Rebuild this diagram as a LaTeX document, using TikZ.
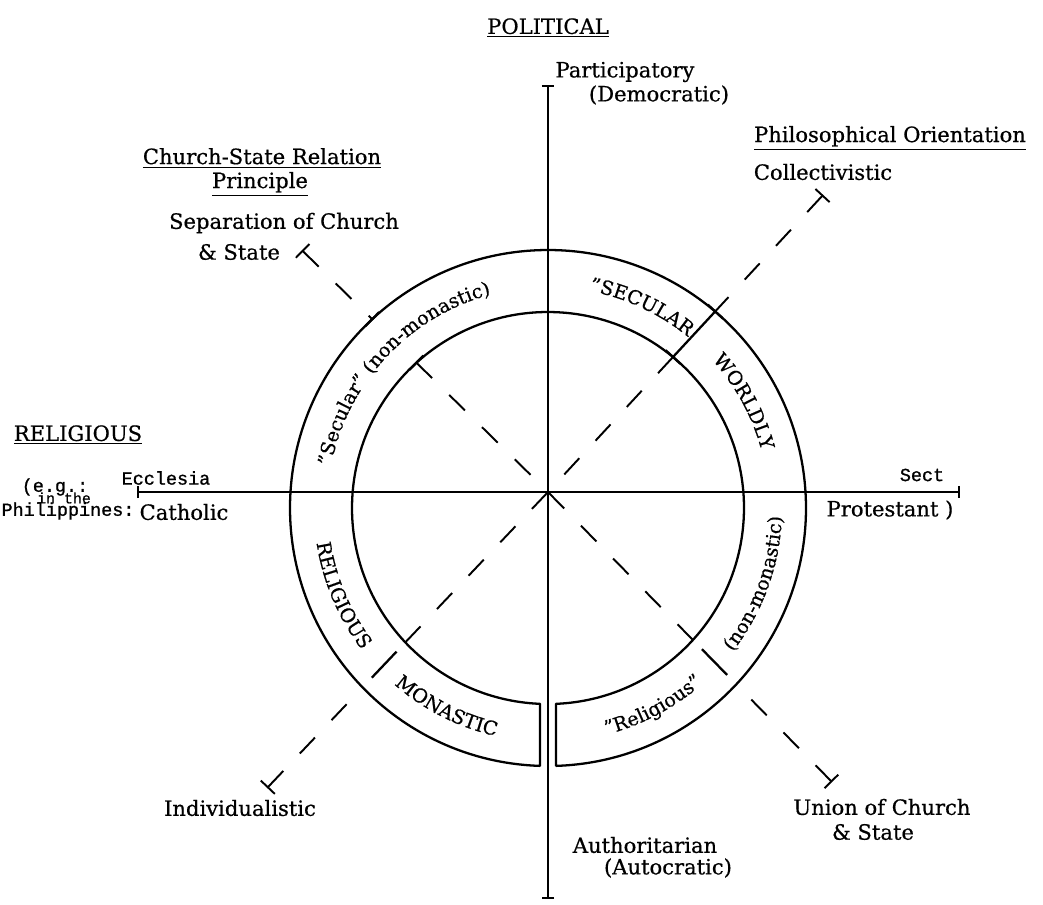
\documentclass[tikz,border=0pt]{standalone}
\usepackage{fontspec}
\setmainfont{DejaVu Serif}[FakeBold=0.6]
\newfontfamily\typefont{Liberation Mono}[FakeBold=1]
\newcommand\bandfont{\fontsize{11}{13}\selectfont}
\usetikzlibrary{arrows.meta,calc,decorations.text}

\begin{document}
\begin{tikzpicture}[x=0.02cm,y=0.02cm,line join=bevel,
  lab/.style={inner sep=1pt,font=\fontsize{12}{14}\selectfont},
  tlab/.style={inner sep=1pt,font=\typefont\fontsize{10.5}{12}\selectfont},
  axisline/.style={line width=1.2pt,{Bar[width=7pt]}-{Bar[width=7pt]}},
  band/.style={line width=1.3pt},
  dline/.style={line width=1.1pt,dash pattern=on 0.44cm off 0.48cm},
  tend/.style={{Bar[width=11pt,line width=1.1pt]}-},
  ]
%%
  \useasboundingbox (-548,-412) rectangle (495,492);

  \coordinate (o) at (0,0);
  \coordinate (cc) at (0,-16);
  \coordinate (west) at (-411,0);
  \coordinate (east) at (412,0);
  \coordinate (north) at (0,407);
  \coordinate (south) at (0,-407);

  \coordinate (nw_end) at (135.5:345);
  \coordinate (nw_out) at (135.5:246.5);
  \coordinate (nw_in) at (135.5:184.5);
  \coordinate (ne_end) at (47.2:405);
  \coordinate (ne_out) at (47.2:246.1);
  \coordinate (ne_in) at (47.2:184);
  \coordinate (se_end) at (-45.6:406);
  \coordinate (se_out) at (-45.6:269.2);
  \coordinate (se_in) at (-45.6:207.1);
  \coordinate (sw_end) at (226.5:408);
  \coordinate (sw_out) at (226.5:269.4);
  \coordinate (sw_in) at (226.5:207.3);

  % labels
  \node (node_political) at (0,464) [lab] {\underline{POLITICAL}};
  \node (node_particip) at (77,420) [lab] {Participatory};
  \node (node_democ) at (111,397) [lab] {(Democratic)};

  \node (node_csr) at (-286,334) [lab] {\underline{Church-State Relation}};
  \node (node_principle) at (-288,308) [lab] {\underline{Principle}};
  \node (node_separation) at (-264,269) [lab] {Separation of Church};
  \node (node_sepstate) at (-309,240) [lab] {\& State};

  \node (node_philo) at (342,354) [lab] {\underline{Philosophical Orientation}};
  \node (node_collect) at (275,320) [lab] {Collectivistic};

  \node (node_religious) at (-470,57) [lab] {\underline{RELIGIOUS}};
  \node (node_ecclesia) at (-382,14) [tlab] {Ecclesia};
  \node (node_eg) at (-493,5) [tlab] {(e.g.:};
  \node (node_inthe) at (-484,-6) [tlab,font=\typefont\fontsize{8.5}{10}\selectfont] {in the};
  \node (node_phil) at (-480,-19) [tlab] {Philippines:};
  \node (node_catholic) at (-364,-20) [lab] {Catholic};

  \node (node_sect) at (374,17) [tlab] {Sect};
  \node (node_protestant) at (342,-18) [lab] {Protestant )};

  \node (node_individual) at (-308,-316) [lab] {Individualistic};
  \node (node_union) at (334,-315) [lab] {Union of Church};
  \node (node_unstate) at (325,-340) [lab] {\& State};
  \node (node_author) at (97,-353) [lab] {Authoritarian};
  \node (node_autocr) at (120,-376) [lab] {(Autocratic)};

  % the two bands
  \draw [band] ($(cc)+(271.78:258)$) arc[start angle=-88.22,end angle=268.22,radius=258]
    -- ($(cc)+(267.66:196)$) arc[start angle=267.66,end angle=-87.66,radius=196] -- cycle;

  % axes
  \draw [axisline] (west) -- (east);
  \draw [axisline] (south) -- (north);

  % diagonals
  \draw [dline,tend] (nw_end) -- (nw_out);
  \draw [dline] (nw_in) -- (o);
  \draw [dline,tend] (ne_end) -- (ne_out);
  \draw [band] (ne_out) -- (ne_in);
  \draw [dline] (ne_in) -- (o);
  \draw [dline,tend] (se_end) -- (se_out);
  \draw [band] (-45.6:220) -- (-45.6:256);
  \draw [dline] (se_in) -- (o);
  \draw [dline,tend] (sw_end) -- (sw_out);
  \draw [band] (226.5:220) -- (226.5:256);
  \draw [dline] (sw_in) -- (o);

  % ticks
  \draw [band] (nw_out) ++(225.5:10) -- ++(45.5:20);
  \draw [band] (nw_in) ++(225.5:10) -- ++(45.5:20);
  \draw [band] (ne_out) ++(137.2:10) -- ++(-42.8:20);
  \draw [band] (ne_in) ++(137.2:10) -- ++(-42.8:20);

  % band texts
  \path [decorate,decoration={text along path,text align=center,
    text={|\bandfont|{\char34}Secular{\char34} (non-monastic)}}]
    ($(cc)+(174:221)$) arc[start angle=174,end angle=100,radius=221];
  \path [decorate,decoration={text along path,text align=center,
    text={|\bandfont|{\char34}SECULAR}}]
    ($(cc)+(80:221)$) arc[start angle=80,end angle=50,radius=221];
  \path [decorate,decoration={text along path,text align=center,
    text={|\bandfont|WORLDLY}}]
    ($(cc)+(44:221)$) arc[start angle=44,end angle=13,radius=221];
  \path [decorate,decoration={text along path,text align=center,
    text={|\bandfont|RELIGIOUS}}]
    ($(cc)+(186:234)$) arc[start angle=186,end angle=220,radius=234];
  \path [decorate,decoration={text along path,text align=center,
    text={|\bandfont|MONASTIC}}]
    ($(cc)+(227:234)$) arc[start angle=227,end angle=259,radius=234];
  \path [decorate,decoration={text along path,text align=center,
    text={|\bandfont|{\char34}Religious{\char34}}}]
    ($(cc)+(282:234)$) arc[start angle=282,end angle=314,radius=234];
  \path [decorate,decoration={text along path,text align=center,
    text={|\bandfont|(non-monastic)}}]
    ($(cc)+(320:234)$) arc[start angle=320,end angle=360,radius=234];
%
\end{tikzpicture}
\end{document}
